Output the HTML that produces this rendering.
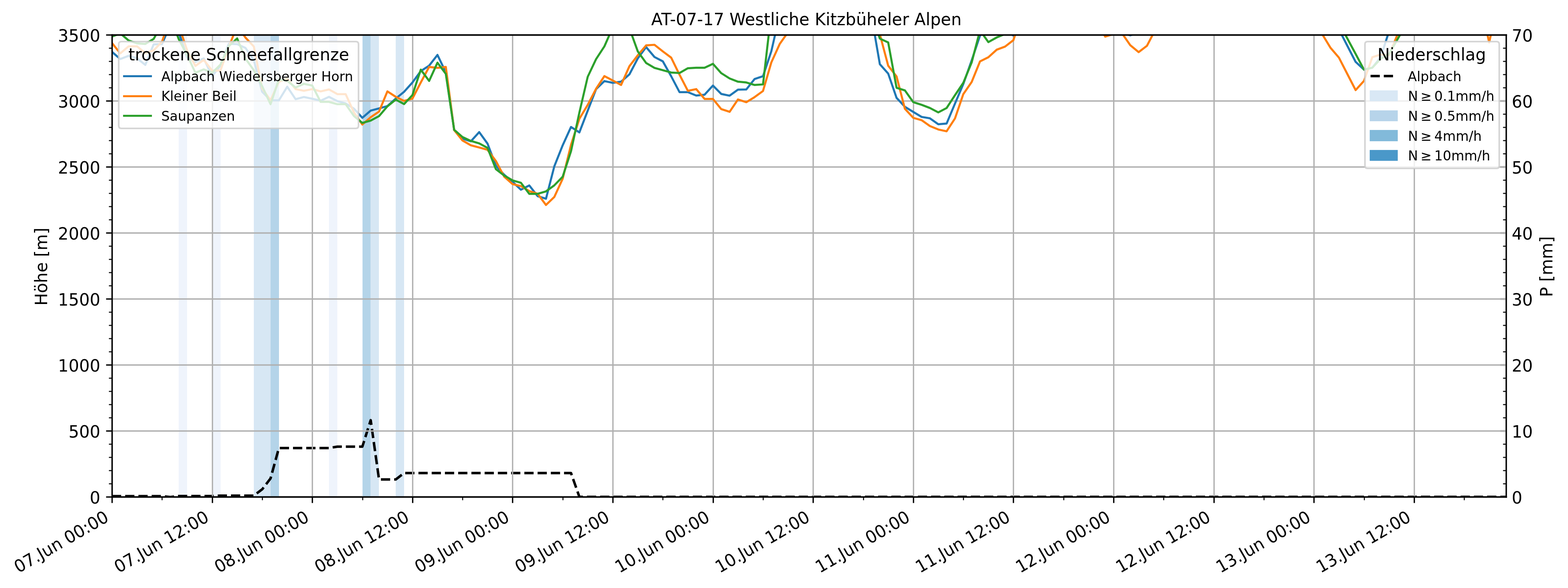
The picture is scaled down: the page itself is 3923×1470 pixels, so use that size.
<!DOCTYPE html>
<html lang="de">
<head>
<meta charset="utf-8">
<title>AT-07-17 Westliche Kitzbüheler Alpen</title>
<style>html,body{margin:0;padding:0;background:#ffffff}body{width:3923px;height:1470px}svg{display:block}</style>
</head>
<body>
<svg width="3923" height="1470" viewBox="0 0 3923 1470" style="display:block">
<defs><clipPath id="axclip"><rect x="280.06" y="87.08" width="3487.5" height="1155"/></clipPath></defs>
<rect x="0" y="0" width="3923" height="1470" fill="#ffffff"/>
<g clip-path="url(#axclip)" shape-rendering="crispEdges">
<rect x="447" y="87.08" width="21" height="1155" fill="#eff4fc"/>
<rect x="531" y="87.08" width="21" height="1155" fill="#eff4fc"/>
<rect x="635" y="87.08" width="42" height="1155" fill="#d7e7f4"/>
<rect x="677" y="87.08" width="21" height="1155" fill="#b4d4e9"/>
<rect x="823" y="87.08" width="21" height="1155" fill="#eff4fc"/>
<rect x="907" y="87.08" width="20" height="1155" fill="#b4d4e9"/>
<rect x="927" y="87.08" width="21" height="1155" fill="#d7e7f4"/>
<rect x="990" y="87.08" width="21" height="1155" fill="#d7e7f4"/>
</g>
<g clip-path="url(#axclip)"><polyline points="280.06,1240.36 300.95,1240.36 321.83,1240.36 342.71,1240.36 363.6,1240.36 384.48,1240.36 405.36,1240.36 426.25,1242.5 447.13,1240.06 468.01,1240.06 488.9,1240.06 509.78,1240.06 530.66,1240.06 551.55,1239 572.43,1239 593.31,1239 614.2,1239 635.08,1239 655.96,1223.3 676.85,1196.2 697.73,1120.1 718.61,1120.1 739.5,1120.1 760.38,1120.1 781.26,1120.1 802.14,1120.1 823.03,1120.1 843.91,1116.6 864.79,1116.6 885.68,1116.6 906.56,1116.6 927.44,1050.5 948.33,1198.7 969.21,1198.7 990.09,1198.7 1010.98,1182.6 1031.86,1182.6 1052.74,1182.6 1073.63,1182.6 1094.51,1182.6 1115.39,1182.6 1136.28,1182.6 1157.16,1182.6 1178.04,1182.6 1198.93,1182.6 1219.81,1182.6 1240.69,1182.6 1261.58,1182.6 1282.46,1182.6 1303.34,1182.6 1324.23,1182.6 1345.11,1182.6 1365.99,1182.6 1386.88,1182.6 1407.76,1182.6 1428.64,1182.6 1449.53,1242.1 1470.41,1242.1 1491.29,1242.1 1512.17,1242.1 1533.06,1242.1 1553.94,1242.1 1574.82,1242.1 1595.71,1242.1 1616.59,1242.1 1637.47,1242.1 1658.36,1242.1 1679.24,1242.1 1700.12,1242.1 1721.01,1242.1 1741.89,1242.1 1762.77,1242.1 1783.66,1242.1 1804.54,1242.1 1825.42,1242.1 1846.31,1242.1 1867.19,1242.1 1888.07,1242.1 1908.96,1242.1 1929.84,1242.1 1950.72,1242.1 1971.61,1242.1 1992.49,1242.1 2013.37,1242.1 2034.26,1242.1 2055.14,1242.1 2076.02,1242.1 2096.91,1242.1 2117.79,1242.1 2138.67,1242.1 2159.56,1242.1 2180.44,1242.1 2201.32,1242.1 2222.2,1242.1 2243.09,1242.1 2263.97,1242.1 2284.85,1242.1 2305.74,1242.1 2326.62,1242.1 2347.5,1242.1 2368.39,1242.1 2389.27,1242.1 2410.15,1242.1 2431.04,1242.1 2451.92,1242.1 2472.8,1242.1 2493.69,1242.1 2514.57,1242.1 2535.45,1242.1 2556.34,1242.1 2577.22,1242.1 2598.1,1242.1 2618.99,1242.1 2639.87,1242.1 2660.75,1242.1 2681.64,1242.1 2702.52,1242.1 2723.4,1242.1 2744.29,1242.1 2765.17,1242.1 2786.05,1242.1 2806.94,1242.1 2827.82,1242.1 2848.7,1242.1 2869.58,1242.1 2890.47,1242.1 2911.35,1242.1 2932.23,1242.1 2953.12,1242.1 2974,1242.1 2994.88,1242.1 3015.77,1242.1 3036.65,1242.1 3057.53,1242.1 3078.42,1242.1 3099.3,1242.1 3120.18,1242.1 3141.07,1242.1 3161.95,1242.1 3182.83,1242.1 3203.72,1242.1 3224.6,1242.1 3245.48,1242.1 3266.37,1242.1 3287.25,1242.1 3308.13,1242.1 3329.02,1242.1 3349.9,1242.1 3370.78,1242.1 3391.67,1242.1 3412.55,1242.1 3433.43,1242.1 3454.32,1242.1 3475.2,1242.1 3496.08,1242.1 3516.97,1242.1 3537.85,1242.1 3558.73,1242.1 3579.61,1242.1 3600.5,1242.1 3621.38,1242.1 3642.26,1242.1 3663.15,1242.1 3684.03,1242.1 3704.91,1242.1 3725.8,1242.1 3746.68,1242.1 3767.56,1242.1" fill="none" stroke="#000000" stroke-width="6.25" stroke-linejoin="round" stroke-linecap="butt" stroke-dasharray="23.12 10"/></g>
<g clip-path="url(#axclip)" stroke="#b0b0b0" stroke-width="3.33" fill="none">
<path d="M280.5 1242.09 V87.08"/>
<path d="M531.5 1242.09 V87.08"/>
<path d="M781.5 1242.09 V87.08"/>
<path d="M1032.5 1242.09 V87.08"/>
<path d="M1282.5 1242.09 V87.08"/>
<path d="M1533.5 1242.09 V87.08"/>
<path d="M1784.5 1242.09 V87.08"/>
<path d="M2034.5 1242.09 V87.08"/>
<path d="M2285.5 1242.09 V87.08"/>
<path d="M2535.5 1242.09 V87.08"/>
<path d="M2786.5 1242.09 V87.08"/>
<path d="M3037.5 1242.09 V87.08"/>
<path d="M3287.5 1242.09 V87.08"/>
<path d="M3538.5 1242.09 V87.08"/>
<path d="M280.06 1242.5 H3767.56"/>
<path d="M280.06 1077.5 H3767.56"/>
<path d="M280.06 912.5 H3767.56"/>
<path d="M280.06 747.5 H3767.56"/>
<path d="M280.06 582.5 H3767.56"/>
<path d="M280.06 417.5 H3767.56"/>
<path d="M280.06 252.5 H3767.56"/>
<path d="M280.06 87.5 H3767.56"/>
</g>
<g stroke="#000000" fill="none">
<path d="M280.5 1242.5 V1257.5" stroke-width="3.33"/>
<path d="M405.5 1242.5 V1250.5" stroke-width="2.5"/>
<path d="M531.5 1242.5 V1257.5" stroke-width="3.33"/>
<path d="M656.5 1242.5 V1250.5" stroke-width="2.5"/>
<path d="M781.5 1242.5 V1257.5" stroke-width="3.33"/>
<path d="M907.5 1242.5 V1250.5" stroke-width="2.5"/>
<path d="M1032.5 1242.5 V1257.5" stroke-width="3.33"/>
<path d="M1157.5 1242.5 V1250.5" stroke-width="2.5"/>
<path d="M1282.5 1242.5 V1257.5" stroke-width="3.33"/>
<path d="M1408.5 1242.5 V1250.5" stroke-width="2.5"/>
<path d="M1533.5 1242.5 V1257.5" stroke-width="3.33"/>
<path d="M1658.5 1242.5 V1250.5" stroke-width="2.5"/>
<path d="M1784.5 1242.5 V1257.5" stroke-width="3.33"/>
<path d="M1909.5 1242.5 V1250.5" stroke-width="2.5"/>
<path d="M2034.5 1242.5 V1257.5" stroke-width="3.33"/>
<path d="M2160.5 1242.5 V1250.5" stroke-width="2.5"/>
<path d="M2285.5 1242.5 V1257.5" stroke-width="3.33"/>
<path d="M2410.5 1242.5 V1250.5" stroke-width="2.5"/>
<path d="M2535.5 1242.5 V1257.5" stroke-width="3.33"/>
<path d="M2661.5 1242.5 V1250.5" stroke-width="2.5"/>
<path d="M2786.5 1242.5 V1257.5" stroke-width="3.33"/>
<path d="M2911.5 1242.5 V1250.5" stroke-width="2.5"/>
<path d="M3037.5 1242.5 V1257.5" stroke-width="3.33"/>
<path d="M3162.5 1242.5 V1250.5" stroke-width="2.5"/>
<path d="M3287.5 1242.5 V1257.5" stroke-width="3.33"/>
<path d="M3413.5 1242.5 V1250.5" stroke-width="2.5"/>
<path d="M3538.5 1242.5 V1257.5" stroke-width="3.33"/>
<path d="M3663.5 1242.5 V1250.5" stroke-width="2.5"/>
<path d="M280.5 1242.5 H265.5" stroke-width="3.33"/>
<path d="M280.5 1209.5 H272.5" stroke-width="2.5"/>
<path d="M280.5 1176.5 H272.5" stroke-width="2.5"/>
<path d="M280.5 1143.5 H272.5" stroke-width="2.5"/>
<path d="M280.5 1110.5 H272.5" stroke-width="2.5"/>
<path d="M280.5 1077.5 H265.5" stroke-width="3.33"/>
<path d="M280.5 1044.5 H272.5" stroke-width="2.5"/>
<path d="M280.5 1011.5 H272.5" stroke-width="2.5"/>
<path d="M280.5 978.5 H272.5" stroke-width="2.5"/>
<path d="M280.5 945.5 H272.5" stroke-width="2.5"/>
<path d="M280.5 912.5 H265.5" stroke-width="3.33"/>
<path d="M280.5 879.5 H272.5" stroke-width="2.5"/>
<path d="M280.5 846.5 H272.5" stroke-width="2.5"/>
<path d="M280.5 813.5 H272.5" stroke-width="2.5"/>
<path d="M280.5 780.5 H272.5" stroke-width="2.5"/>
<path d="M280.5 747.5 H265.5" stroke-width="3.33"/>
<path d="M280.5 714.5 H272.5" stroke-width="2.5"/>
<path d="M280.5 681.5 H272.5" stroke-width="2.5"/>
<path d="M280.5 648.5 H272.5" stroke-width="2.5"/>
<path d="M280.5 615.5 H272.5" stroke-width="2.5"/>
<path d="M280.5 582.5 H265.5" stroke-width="3.33"/>
<path d="M280.5 549.5 H272.5" stroke-width="2.5"/>
<path d="M280.5 516.5 H272.5" stroke-width="2.5"/>
<path d="M280.5 483.5 H272.5" stroke-width="2.5"/>
<path d="M280.5 450.5 H272.5" stroke-width="2.5"/>
<path d="M280.5 417.5 H265.5" stroke-width="3.33"/>
<path d="M280.5 384.5 H272.5" stroke-width="2.5"/>
<path d="M280.5 351.5 H272.5" stroke-width="2.5"/>
<path d="M280.5 318.5 H272.5" stroke-width="2.5"/>
<path d="M280.5 285.5 H272.5" stroke-width="2.5"/>
<path d="M280.5 252.5 H265.5" stroke-width="3.33"/>
<path d="M280.5 219.5 H272.5" stroke-width="2.5"/>
<path d="M280.5 186.5 H272.5" stroke-width="2.5"/>
<path d="M280.5 153.5 H272.5" stroke-width="2.5"/>
<path d="M280.5 120.5 H272.5" stroke-width="2.5"/>
<path d="M280.5 87.5 H265.5" stroke-width="3.33"/>
</g>
<g clip-path="url(#axclip)" fill="none" stroke-width="5.21" stroke-linejoin="round" stroke-linecap="square">
<polyline points="280.06,129.5 300.95,147.6 321.83,139.5 342.71,145.6 363.6,162.3 384.48,110.8 405.36,110.3 426.25,61.3 447.13,80 468.01,143.6 488.9,154.7 509.78,146.1 530.66,190.6 551.55,164 572.43,109.3 593.31,110.3 614.2,119.9 635.08,150.6 655.96,229.5 676.85,250.8 697.73,250.8 718.61,216.8 739.5,247.9 760.38,242.5 781.26,246.9 802.14,251.8 823.03,242.1 843.91,252.7 864.79,258.6 885.68,271.7 906.56,294.4 927.44,276.6 948.33,271.1 969.21,265.3 990.09,246.5 1010.98,229.5 1031.86,206.2 1052.74,177.8 1073.63,164.2 1094.51,137.3 1115.39,180.9 1136.28,325.1 1157.16,346.5 1178.04,353.3 1198.93,330.3 1219.81,359.1 1240.69,414.5 1261.58,437.1 1282.46,454.5 1303.34,474.3 1324.23,463.6 1345.11,490.4 1365.99,496.8 1386.88,415.7 1407.76,363.3 1428.64,317.4 1449.53,331 1470.41,276.7 1491.29,223 1512.17,202.7 1533.06,207.1 1553.94,204.2 1574.82,185.8 1595.71,146 1616.59,117.8 1637.47,142.5 1658.36,153.4 1679.24,190.6 1700.12,230.4 1721.01,230.4 1741.89,238.8 1762.77,236.8 1783.66,213.9 1804.54,234.9 1825.42,239.2 1846.31,224.2 1867.19,223.6 1888.07,197.4 1908.96,190.6 1929.84,128 1950.72,36.5 1971.61,30 1992.49,30 2013.37,30 2034.26,30 2055.14,30 2076.02,30 2096.91,30 2117.79,30 2138.67,30 2159.56,30 2180.44,40 2201.32,160.6 2222.2,184 2243.09,244.6 2263.97,267 2284.85,279.7 2305.74,292.3 2326.62,295.8 2347.5,310.7 2368.39,308.8 2389.27,259 2410.15,210 2431.04,151 2451.92,89 2472.8,70 2493.69,70 2514.57,75 2535.45,88.7 2556.34,60 2577.22,30 2598.1,30 2618.99,30 2639.87,30 2660.75,30 2681.64,30 2702.52,30 2723.4,30 2744.29,30 2765.17,30 2786.05,30 2806.94,81.5 2827.82,88.3 2848.7,81.5 2869.58,30 2890.47,30 2911.35,30 2932.23,30 2953.12,30 2974,30 2994.88,30 3015.77,30 3036.65,30 3057.53,30 3078.42,30 3099.3,30 3120.18,30 3141.07,30 3161.95,30 3182.83,30 3203.72,30 3224.6,30 3245.48,30 3266.37,30 3287.25,30 3308.13,30 3329.02,30 3349.9,73.4 3370.78,114.2 3391.67,154.7 3412.55,174.1 3433.43,169.2 3454.32,143.1 3475.2,78.5 3496.08,30 3516.97,30 3537.85,30 3558.73,30 3579.61,30 3600.5,30 3621.38,30 3642.26,30 3663.15,30 3684.03,30 3704.91,30 3725.8,30 3746.68,30 3767.56,30" stroke="#1f77b4"/>
<polyline points="280.06,107.3 300.95,133.5 321.83,115.8 342.71,115.8 363.6,133 384.48,125.9 405.36,104.2 426.25,43.7 447.13,63.3 468.01,125.4 488.9,164.8 509.78,149.6 530.66,176.4 551.55,176.4 572.43,117.3 593.31,64.9 614.2,94.1 635.08,116.3 655.96,221.2 676.85,250.8 697.73,204.2 718.61,196.5 739.5,222.7 760.38,227 781.26,222.7 802.14,228.5 823.03,223.6 843.91,235.3 864.79,235.3 885.68,281.4 906.56,311.3 927.44,293.1 948.33,278.9 969.21,228.4 990.09,242 1010.98,252.3 1031.86,246.5 1052.74,206.2 1073.63,167.3 1094.51,169.7 1115.39,167.3 1136.28,325.1 1157.16,351.3 1178.04,363.3 1198.93,368.8 1219.81,374.6 1240.69,402.5 1261.58,441.9 1282.46,460.3 1303.34,465.2 1324.23,477.8 1345.11,484.6 1365.99,512.4 1386.88,492.4 1407.76,446.8 1428.64,362 1449.53,297 1470.41,262.1 1491.29,222 1512.17,190.2 1533.06,201.3 1553.94,212.4 1574.82,165.4 1595.71,138.2 1616.59,113.4 1637.47,112 1658.36,128.5 1679.24,144.1 1700.12,186.8 1721.01,227.1 1741.89,222.7 1762.77,247.3 1783.66,247.3 1804.54,272.8 1825.42,279.6 1846.31,248.7 1867.19,255.5 1888.07,242.7 1908.96,227.5 1929.84,156 1950.72,110.1 1971.61,80.4 1992.49,30 2013.37,30 2034.26,30 2055.14,30 2076.02,30 2096.91,30 2117.79,30 2138.67,30 2159.56,30 2180.44,40 2201.32,85.8 2222.2,164.3 2243.09,191 2263.97,272 2284.85,294.6 2305.74,300.4 2326.62,315.2 2347.5,323.7 2368.39,328.2 2389.27,296.2 2410.15,235.2 2431.04,205 2451.92,153.5 2472.8,143.1 2493.69,124.3 2514.57,116.5 2535.45,100.4 2556.34,37.3 2577.22,30 2598.1,30 2618.99,30 2639.87,30 2660.75,30 2681.64,30 2702.52,30 2723.4,30 2744.29,55 2765.17,91.6 2786.05,85 2806.94,82.9 2827.82,113 2848.7,130.3 2869.58,114.5 2890.47,74.4 2911.35,30 2932.23,30 2953.12,30 2974,30 2994.88,30 3015.77,30 3036.65,30 3057.53,30 3078.42,30 3099.3,30 3120.18,30 3141.07,30 3161.95,30 3182.83,30 3203.72,30 3224.6,30 3245.48,30 3266.37,30 3287.25,30 3308.13,85.5 3329.02,119.8 3349.9,144.1 3370.78,184.8 3391.67,225.2 3412.55,202.3 3433.43,143.1 3454.32,136.3 3475.2,138.2 3496.08,87 3516.97,50 3537.85,30 3558.73,30 3579.61,30 3600.5,30 3621.38,30 3642.26,30 3663.15,30 3684.03,30 3704.91,12 3725.8,106.3 3746.68,12 3767.56,30" stroke="#ff7f0e"/>
<polyline points="280.06,91.5 300.95,83.5 321.83,101.2 342.71,108.3 363.6,109.8 384.48,97.2 405.36,59.8 426.25,42.7 447.13,97.7 468.01,137.5 488.9,182 509.78,173.4 530.66,182 551.55,161.5 572.43,115.3 593.31,96.1 614.2,146.6 635.08,175.5 655.96,215.6 676.85,260.5 697.73,198.4 718.61,202.3 739.5,218.8 760.38,209.5 781.26,213.9 802.14,254.7 823.03,254.7 843.91,260.5 864.79,260.5 885.68,290.2 906.56,307.3 927.44,301.4 948.33,290.2 969.21,265.9 990.09,249 1010.98,260.1 1031.86,237.8 1052.74,174.1 1073.63,202.3 1094.51,156.7 1115.39,184.8 1136.28,324.5 1157.16,342.6 1178.04,352.3 1198.93,358.5 1219.81,369.8 1240.69,423 1261.58,439 1282.46,451 1303.34,457 1324.23,484.6 1345.11,484.6 1365.99,478.4 1386.88,463.3 1407.76,441.9 1428.64,378 1449.53,281.5 1470.41,192 1491.29,147.9 1512.17,115.9 1533.06,68.5 1553.94,55 1574.82,70.9 1595.71,128.5 1616.59,157.6 1637.47,169.7 1658.36,175.5 1679.24,181.3 1700.12,182.5 1721.01,170.6 1741.89,169.3 1762.77,169.3 1783.66,159.6 1804.54,182.9 1825.42,196.1 1846.31,204.2 1867.19,206.2 1888.07,212.4 1908.96,211 1929.84,30 1950.72,30 1971.61,30 1992.49,30 2013.37,30 2034.26,30 2055.14,30 2076.02,30 2096.91,30 2117.79,30 2138.67,30 2159.56,30 2180.44,33.8 2201.32,96.5 2222.2,106.2 2243.09,219.4 2263.97,226 2284.85,255.3 2305.74,262 2326.62,270 2347.5,281 2368.39,270 2389.27,238 2410.15,207 2431.04,156 2451.92,76.1 2472.8,105.2 2493.69,93.6 2514.57,84.9 2535.45,70 2556.34,30 2577.22,30 2598.1,30 2618.99,30 2639.87,30 2660.75,30 2681.64,30 2702.52,30 2723.4,30 2744.29,30 2765.17,30 2786.05,30 2806.94,30 2827.82,30 2848.7,30 2869.58,30 2890.47,30 2911.35,30 2932.23,30 2953.12,30 2974,30 2994.88,30 3015.77,30 3036.65,30 3057.53,30 3078.42,30 3099.3,30 3120.18,30 3141.07,30 3161.95,30 3182.83,30 3203.72,30 3224.6,30 3245.48,30 3266.37,30 3287.25,30 3308.13,30 3329.02,30 3349.9,57.3 3370.78,96 3391.67,134.8 3412.55,174.1 3433.43,169.3 3454.32,147 3475.2,135.3 3496.08,99 3516.97,62 3537.85,30 3558.73,30 3579.61,30 3600.5,30 3621.38,30 3642.26,30 3663.15,30 3684.03,30 3704.91,30 3725.8,30 3746.68,30 3767.56,30" stroke="#2ca02c"/>
</g>
<g stroke="#000000" stroke-width="3.33" fill="none" stroke-linecap="square">
<path d="M280.5 1242.5 V87.5"/>
<path d="M3768.5 1242.5 V87.5"/>
<path d="M280.5 1242.5 H3768.5"/>
<path d="M280.5 87.5 H3768.5"/>
</g>
<g fill="none">
<path d="M3768.5 1242.5 H3753.5" stroke="#b0b0b0" stroke-width="4.58"/>
<path d="M3768.5 1209.5 H3760.5" stroke="#000000" stroke-width="2.5"/>
<path d="M3768.5 1176.5 H3760.5" stroke="#000000" stroke-width="2.5"/>
<path d="M3768.5 1143.5 H3760.5" stroke="#000000" stroke-width="2.5"/>
<path d="M3768.5 1110.5 H3760.5" stroke="#000000" stroke-width="2.5"/>
<path d="M3768.5 1077.5 H3753.5" stroke="#b0b0b0" stroke-width="4.58"/>
<path d="M3768.5 1044.5 H3760.5" stroke="#000000" stroke-width="2.5"/>
<path d="M3768.5 1011.5 H3760.5" stroke="#000000" stroke-width="2.5"/>
<path d="M3768.5 978.5 H3760.5" stroke="#000000" stroke-width="2.5"/>
<path d="M3768.5 945.5 H3760.5" stroke="#000000" stroke-width="2.5"/>
<path d="M3768.5 912.5 H3753.5" stroke="#b0b0b0" stroke-width="4.58"/>
<path d="M3768.5 879.5 H3760.5" stroke="#000000" stroke-width="2.5"/>
<path d="M3768.5 846.5 H3760.5" stroke="#000000" stroke-width="2.5"/>
<path d="M3768.5 813.5 H3760.5" stroke="#000000" stroke-width="2.5"/>
<path d="M3768.5 780.5 H3760.5" stroke="#000000" stroke-width="2.5"/>
<path d="M3768.5 747.5 H3753.5" stroke="#b0b0b0" stroke-width="4.58"/>
<path d="M3768.5 714.5 H3760.5" stroke="#000000" stroke-width="2.5"/>
<path d="M3768.5 681.5 H3760.5" stroke="#000000" stroke-width="2.5"/>
<path d="M3768.5 648.5 H3760.5" stroke="#000000" stroke-width="2.5"/>
<path d="M3768.5 615.5 H3760.5" stroke="#000000" stroke-width="2.5"/>
<path d="M3768.5 582.5 H3753.5" stroke="#b0b0b0" stroke-width="4.58"/>
<path d="M3768.5 549.5 H3760.5" stroke="#000000" stroke-width="2.5"/>
<path d="M3768.5 516.5 H3760.5" stroke="#000000" stroke-width="2.5"/>
<path d="M3768.5 483.5 H3760.5" stroke="#000000" stroke-width="2.5"/>
<path d="M3768.5 450.5 H3760.5" stroke="#000000" stroke-width="2.5"/>
<path d="M3768.5 417.5 H3753.5" stroke="#b0b0b0" stroke-width="4.58"/>
<path d="M3768.5 384.5 H3760.5" stroke="#000000" stroke-width="2.5"/>
<path d="M3768.5 351.5 H3760.5" stroke="#000000" stroke-width="2.5"/>
<path d="M3768.5 318.5 H3760.5" stroke="#000000" stroke-width="2.5"/>
<path d="M3768.5 285.5 H3760.5" stroke="#000000" stroke-width="2.5"/>
<path d="M3768.5 252.5 H3753.5" stroke="#b0b0b0" stroke-width="4.58"/>
<path d="M3768.5 219.5 H3760.5" stroke="#000000" stroke-width="2.5"/>
<path d="M3768.5 186.5 H3760.5" stroke="#000000" stroke-width="2.5"/>
<path d="M3768.5 153.5 H3760.5" stroke="#000000" stroke-width="2.5"/>
<path d="M3768.5 120.5 H3760.5" stroke="#000000" stroke-width="2.5"/>
<path d="M3768.5 87.5 H3753.5" stroke="#b0b0b0" stroke-width="4.58"/>
</g>
<g stroke="#000000" stroke-width="3.33" fill="none" stroke-linecap="square">
<path d="M280.5 1242.5 V87.5"/>
<path d="M3768.5 1242.5 V87.5"/>
<path d="M280.5 1242.5 H3768.5"/>
<path d="M280.5 87.5 H3768.5"/>
</g>
<g font-family="'DejaVu Sans', 'Liberation Sans', sans-serif" fill="#000000" font-size="41.67">
<text transform="translate(274.96 1301.33) rotate(-30) scale(0.998 1.033)" text-anchor="end">07.Jun 00:00</text>
<text transform="translate(525.56 1301.33) rotate(-30) scale(0.998 1.033)" text-anchor="end">07.Jun 12:00</text>
<text transform="translate(776.16 1301.33) rotate(-30) scale(0.998 1.033)" text-anchor="end">08.Jun 00:00</text>
<text transform="translate(1026.76 1301.33) rotate(-30) scale(0.998 1.033)" text-anchor="end">08.Jun 12:00</text>
<text transform="translate(1277.36 1301.33) rotate(-30) scale(0.998 1.033)" text-anchor="end">09.Jun 00:00</text>
<text transform="translate(1527.96 1301.33) rotate(-30) scale(0.998 1.033)" text-anchor="end">09.Jun 12:00</text>
<text transform="translate(1778.56 1301.33) rotate(-30) scale(0.998 1.033)" text-anchor="end">10.Jun 00:00</text>
<text transform="translate(2029.16 1301.33) rotate(-30) scale(0.998 1.033)" text-anchor="end">10.Jun 12:00</text>
<text transform="translate(2279.75 1301.33) rotate(-30) scale(0.998 1.033)" text-anchor="end">11.Jun 00:00</text>
<text transform="translate(2530.35 1301.33) rotate(-30) scale(0.998 1.033)" text-anchor="end">11.Jun 12:00</text>
<text transform="translate(2780.95 1301.33) rotate(-30) scale(0.998 1.033)" text-anchor="end">12.Jun 00:00</text>
<text transform="translate(3031.55 1301.33) rotate(-30) scale(0.998 1.033)" text-anchor="end">12.Jun 12:00</text>
<text transform="translate(3282.15 1301.33) rotate(-30) scale(0.998 1.033)" text-anchor="end">13.Jun 00:00</text>
<text transform="translate(3532.75 1301.33) rotate(-30) scale(0.998 1.033)" text-anchor="end">13.Jun 12:00</text>
<text transform="translate(117.51 764.09) rotate(-90) scale(0.998 1.033)">Höhe [m]</text>
<text transform="translate(250.9 1259.19) scale(0.998 1.033)" text-anchor="end">0</text>
<text transform="translate(250.9 1094.19) scale(0.998 1.033)" text-anchor="end">500</text>
<text transform="translate(250.9 929.19) scale(0.998 1.033)" text-anchor="end">1000</text>
<text transform="translate(250.9 764.19) scale(0.998 1.033)" text-anchor="end">1500</text>
<text transform="translate(250.9 599.19) scale(0.998 1.033)" text-anchor="end">2000</text>
<text transform="translate(250.9 434.19) scale(0.998 1.033)" text-anchor="end">2500</text>
<text transform="translate(250.9 269.19) scale(0.998 1.033)" text-anchor="end">3000</text>
<text transform="translate(250.9 104.19) scale(0.998 1.033)" text-anchor="end">3500</text>
<text transform="translate(1629.25 62.59) scale(0.998 1.033)" style="white-space:pre">AT-07-17 Westliche Kitzbüheler Alpen </text>
<text transform="translate(3884.44 742.52) rotate(-90) scale(0.998 1.033)">P [mm]</text>
<text transform="translate(3782.15 1259.19) scale(0.998 1.033)" style="white-space:pre">0</text>
<text transform="translate(3782.15 1094.19) scale(0.998 1.033)" style="white-space:pre">10</text>
<text transform="translate(3782.15 929.19) scale(0.998 1.033)" style="white-space:pre">20</text>
<text transform="translate(3782.15 764.19) scale(0.998 1.033)" style="white-space:pre">30</text>
<text transform="translate(3782.15 599.19) scale(0.998 1.033)" style="white-space:pre">40</text>
<text transform="translate(3782.15 434.19) scale(0.998 1.033)" style="white-space:pre">50</text>
<text transform="translate(3782.15 269.19) scale(0.998 1.033)" style="white-space:pre">60</text>
<text transform="translate(3782.15 104.19) scale(0.998 1.033)" style="white-space:pre">70</text>
</g>
<path d="M303.67 321 L890.33 321 Q897 321 897 314.33 L897 110.67 Q897 104 890.33 104 L303.67 104 Q297 104 297 110.67 L297 314.33 Q297 321 303.67 321 Z" fill="#ffffff" stroke="#cccccc" stroke-width="4.17" stroke-linejoin="miter" fill-opacity="0.8" stroke-opacity="0.8"/>
<path d="M310.5 190.5 H377.5" stroke="#1f77b4" stroke-width="5.21" stroke-linecap="square" fill="none"/>
<path d="M310.5 240.5 H377.5" stroke="#ff7f0e" stroke-width="5.21" stroke-linecap="square" fill="none"/>
<path d="M310.5 289.5 H377.5" stroke="#2ca02c" stroke-width="5.21" stroke-linecap="square" fill="none"/>
<path d="M3421.67 421 L3744.33 421 Q3751 421 3751 414.33 L3751 110.67 Q3751 104 3744.33 104 L3421.67 104 Q3415 104 3415 110.67 L3415 414.33 Q3415 421 3421.67 421 Z" fill="#ffffff" stroke="#cccccc" stroke-width="4.17" stroke-linejoin="miter" fill-opacity="0.8" stroke-opacity="0.8"/>
<path d="M3429 190 H3495" stroke="#000000" stroke-width="6.25" stroke-dasharray="23.12 10" fill="none"/>
<rect x="3429" y="228" width="66" height="23" fill="#d9e8f5" stroke="#d9e8f5" stroke-width="4.17"/>
<rect x="3429" y="278" width="66" height="23" fill="#b7d4ea" stroke="#b7d4ea" stroke-width="4.17"/>
<rect x="3429" y="327" width="66" height="24" fill="#82bada" stroke="#82bada" stroke-width="4.17"/>
<rect x="3429" y="377" width="66" height="23" fill="#4a98c9" stroke="#4a98c9" stroke-width="4.17"/>
<g font-family="'DejaVu Sans', 'Liberation Sans', sans-serif" fill="#000000">
<text transform="translate(321.31 150.59) scale(0.998 1.033)" font-size="41.67">trockene Schneefallgrenze</text>
<text x="403.4" y="202.75" font-size="33.33">Alpbach Wiedersberger Horn</text>
<text x="403.4" y="252.42" font-size="33.33">Kleiner Beil</text>
<text x="403.4" y="302.09" font-size="33.33">Saupanzen</text>
<text transform="translate(3446.26 150.59) scale(0.998 1.033)" font-size="41.67">Niederschlag</text>
<text x="3522.03" y="202.75" font-size="33.33">Alpbach</text>
<text y="251.52" font-size="33.33"><tspan x="3522.73">N</tspan><tspan x="3554.16">≥</tspan><tspan x="3588.59">0.1mm/h</tspan></text>
<text y="302.19" font-size="33.33"><tspan x="3522.73">N</tspan><tspan x="3554.16">≥</tspan><tspan x="3588.59">0.5mm/h</tspan></text>
<text y="351.85" font-size="33.33"><tspan x="3522.73">N</tspan><tspan x="3554.16">≥</tspan><tspan x="3588.59">4mm/h</tspan></text>
<text y="400.52" font-size="33.33"><tspan x="3522.73">N</tspan><tspan x="3554.16">≥</tspan><tspan x="3588.59">10mm/h</tspan></text>
</g>
</svg>
</body>
</html>
